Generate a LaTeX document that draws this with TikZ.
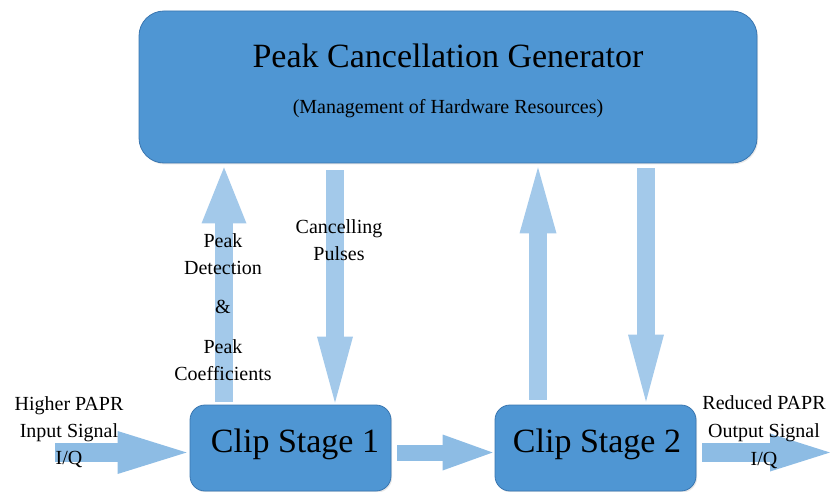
\documentclass[tikz,border=0pt]{standalone}
\usepackage{fontspec}
\setmainfont{Liberation Serif}
\usetikzlibrary{arrows.meta,shadows}

\definecolor{boxfill}{RGB}{79,150,211}
\definecolor{boxline}{RGB}{58,118,176}
\definecolor{vshaft}{RGB}{163,201,234}
\definecolor{hshaft}{RGB}{141,188,228}

\tikzset{
  block/.style={draw=boxline, line width=0.8pt, fill=boxfill,
    drop shadow={shadow xshift=1.2pt, shadow yshift=-1.5pt, opacity=0.18}},
  vfat/.style={draw=vshaft, line width=18pt},
  hfat/.style={draw=hshaft},
  lbl/.style={anchor=base, inner sep=0pt, font=\fontsize{20}{27}\selectfont},
}
\newcommand{\fattip}[2]{-{Triangle[width=#1pt,length=#2pt,line width=0pt]}}

\begin{document}
\begin{tikzpicture}[x=1pt, y=-1pt]
\useasboundingbox (0,0) rectangle (830,492);

% blocks
\node[block, rounded corners=25pt, minimum width=618pt, minimum height=152pt,
      inner sep=0pt] (pcg) at (448,87) {};
\node[block, rounded corners=15pt, minimum width=201pt, minimum height=86pt,
      inner sep=0pt] (clip1) at (290.5,448) {};
\node[block, rounded corners=15pt, minimum width=201pt, minimum height=86pt,
      inner sep=0pt] (clip2) at (595.5,448) {};

% block texts
\node[anchor=base, inner sep=0pt, font=\fontsize{34}{40}\selectfont] (title) at (448,68)
  {Peak Cancellation Generator};
\node[anchor=base, inner sep=0pt, font=\fontsize{20}{24}\selectfont] (subtitle) at (448,114)
  {(Management of Hardware Resources)};
\node[anchor=base, inner sep=0pt, font=\fontsize{34}{40}\selectfont] (c1text) at (295,452)
  {Clip Stage 1};
\node[anchor=base, inner sep=0pt, font=\fontsize{34}{40}\selectfont] (c2text) at (597,452)
  {Clip Stage 2};

% arrow columns and rows
\coordinate (xa) at (224,0);
\coordinate (xb) at (335,0);
\coordinate (xc) at (538,0);
\coordinate (xd) at (646,0);
\coordinate (hy) at (0,452.5);
\coordinate (inp) at (55,452.5);
\coordinate (outp) at (830,452.5);

% vertical links between the stages and the generator
\draw[vfat, \fattip{45}{56}, shorten <=3pt, shorten >=4pt]
  (clip1.north -| xa) -- (pcg.south -| xa);
\draw[vfat, \fattip{36}{66}, shorten <=7pt, shorten >=2pt]
  (pcg.south -| xb) -- (clip1.north -| xb);
\draw[vfat, \fattip{37}{66}, shorten <=5pt, shorten >=4pt]
  (clip2.north -| xc) -- (pcg.south -| xc);
\draw[vfat, \fattip{36}{67}, shorten <=5pt, shorten >=3pt]
  (pcg.south -| xd) -- (clip2.north -| xd);

% signal path
\draw[hfat, line width=19pt, \fattip{43}{69}, shorten >=3pt]
  (inp) -- (clip1.west |- hy);
\draw[hfat, line width=16pt, \fattip{36}{50}, shorten <=6pt, shorten >=2pt]
  (clip1.east |- hy) -- (clip2.west |- hy);
\draw[hfat, line width=19pt, \fattip{38}{60}, shorten <=6pt]
  (clip2.east |- hy) -- (outp);

% labels
\node[lbl] (peaklbl) at (223,247)
  {\begin{tabular}[t]{@{}c@{}}Peak\\Detection\\[12pt]\&\\[13pt]Peak\\Coefficients\end{tabular}};
\node[lbl] (canclbl) at (339,233)
  {\begin{tabular}[t]{@{}c@{}}Cancelling\\Pulses\end{tabular}};
\node[lbl] (inlbl) at (69,410)
  {\begin{tabular}[t]{@{}c@{}}Higher PAPR\\[0.5pt]Input Signal\\I/Q\end{tabular}};
\node[lbl] (outlbl) at (764,409)
  {\begin{tabular}[t]{@{}c@{}}Reduced PAPR\\[1pt]Output Signal\\[1pt]I/Q\end{tabular}};
\end{tikzpicture}
\end{document}
